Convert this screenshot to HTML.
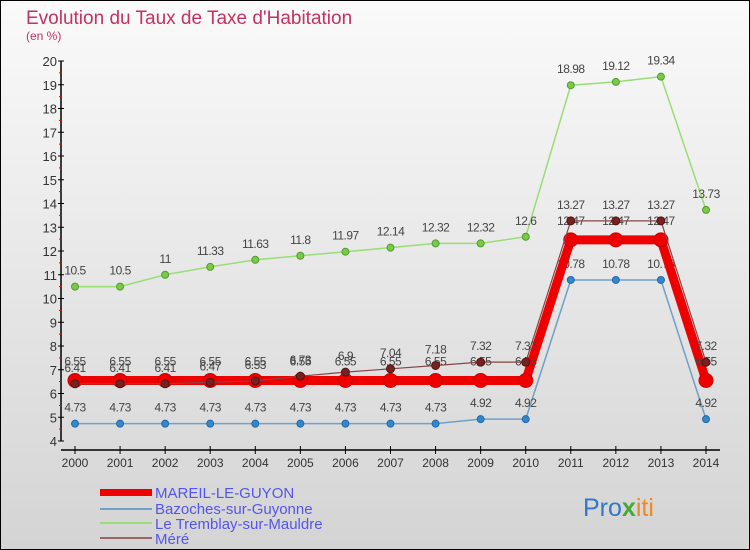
<!DOCTYPE html>
<html><head><meta charset="utf-8"><style>
body{margin:0}
#c{width:750px;height:550px;position:relative;box-sizing:border-box;border:1px solid #000;background:linear-gradient(#fafafa,#d4d4d4);font-family:"Liberation Sans",sans-serif;overflow:hidden}
</style></head><body>
<div id="c">
<svg id="s" width="750" height="550" style="position:absolute;left:-1px;top:-1px">
<text x="26" y="24" font-size="19" fill="#c4325f">Evolution du Taux de Taxe d'Habitation</text>
<text x="26" y="40" font-size="12" fill="#c4325f">(en %)</text>
<g id="g"></g>
<g>
<rect x="100" y="489" width="52" height="7" fill="#e00"/>
<text x="155" y="498" font-size="15" fill="#5555ee">MAREIL-LE-GUYON</text>
<rect x="100" y="508" width="52" height="2" fill="#6fa0c8"/>
<text x="155" y="514" font-size="15" fill="#5555ee">Bazoches-sur-Guyonne</text>
<rect x="100" y="522" width="52" height="2" fill="#99dd77"/>
<text x="155" y="529" font-size="15" fill="#5555ee">Le Tremblay-sur-Mauldre</text>
<rect x="100" y="537" width="52" height="2" fill="#996666"/>
<text x="155" y="544" font-size="15" fill="#5555ee">Méré</text>
</g>
<text x="583" y="516" font-size="25"><tspan fill="#3377cc">Pro</tspan><tspan fill="#44aa33" font-weight="bold">x</tspan><tspan fill="#ee8822">iti</tspan></text>
</svg>
</div>
<script>
const years=[2000,2001,2002,2003,2004,2005,2006,2007,2008,2009,2010,2011,2012,2013,2014];
const yTicks=[4,5,6,7,8,9,10,11,12,13,14,15,16,17,18,19,20];
const mareil=[6.55,6.55,6.55,6.55,6.55,6.55,6.55,6.55,6.55,6.55,6.55,12.47,12.47,12.47,6.55];
const bazoches=[4.73,4.73,4.73,4.73,4.73,4.73,4.73,4.73,4.73,4.92,4.92,10.78,10.78,10.78,4.92];
const tremblay=[10.5,10.5,11,11.33,11.63,11.8,11.97,12.14,12.32,12.32,12.6,18.98,19.12,19.34,13.73];
const mere=[6.41,6.41,6.41,6.47,6.53,6.73,6.9,7.04,7.18,7.32,7.32,13.27,13.27,13.27,7.32];
const NS='http://www.w3.org/2000/svg';
const g=document.getElementById('g');
const X=i=>75+i*(631/(years.length-1));
const Y=v=>441-(v-4)*23.75;
function mk(t,a,p){const e=document.createElementNS(NS,t);for(const k in a)e.setAttribute(k,a[k]);(p||g).appendChild(e);return e;}
let ya=mk('line',{x1:61,y1:Y(20),x2:61,y2:Y(4),stroke:'#000','stroke-width':1.5});


yTicks.forEach(v=>{
  mk('line',{x1:58,y1:Y(v),x2:64,y2:Y(v),stroke:'#000'});
  if(v<20){mk('line',{x1:59,y1:Y(v+0.5),x2:62,y2:Y(v+0.5),stroke:'#e00'});}
  const t=mk('text',{x:57,y:Y(v)+5,'font-size':13,'text-anchor':'end',fill:'#333'});t.textContent=v;
  
  
});
let xa=mk('line',{x1:61,y1:450,x2:720,y2:450,stroke:'#000','stroke-width':1.5});


years.forEach((yr,i)=>{
  mk('line',{x1:X(i),y1:446,x2:X(i),y2:454,stroke:'#000'});
  const t=mk('text',{x:X(i),y:467,'font-size':12,'text-anchor':'middle',fill:'#333'});t.textContent=yr;
  
  
});
function series(arr,name,color,w,r,dot,dotStroke,labOff){
  const gg=mk('g',{});
  
  
  mk('polyline',{points:arr.map((v,i)=>X(i)+','+Y(v)).join(' '),fill:'none',stroke:color,'stroke-width':w,'stroke-linejoin':'round'},gg);
  arr.forEach((v,i)=>{
    const c=mk('circle',{cx:X(i),cy:Y(v),r:r,fill:dot,stroke:dotStroke,'stroke-width':1},gg);
    
    
    const t=mk('text',{x:X(i),y:Y(v)+labOff,'font-size':12,'text-anchor':'middle',fill:'#444','letter-spacing':'-0.5'},gg);
    t.textContent=String(v);
  });
}
series(tremblay,'tremblay','#99dd77',1.5,3.5,'#77cc44','#559933',-12);
series(bazoches,'bazoches','#6fa0c8',1.5,3.5,'#3388cc','#2266aa',-12);
series(mareil,'mareil','#ee0000',9,7,'#ee0000','#cc0000',-15);
series(mere,'mere','#884444',1.2,4,'#772222','#551111',-12);
</script>
</body></html>
